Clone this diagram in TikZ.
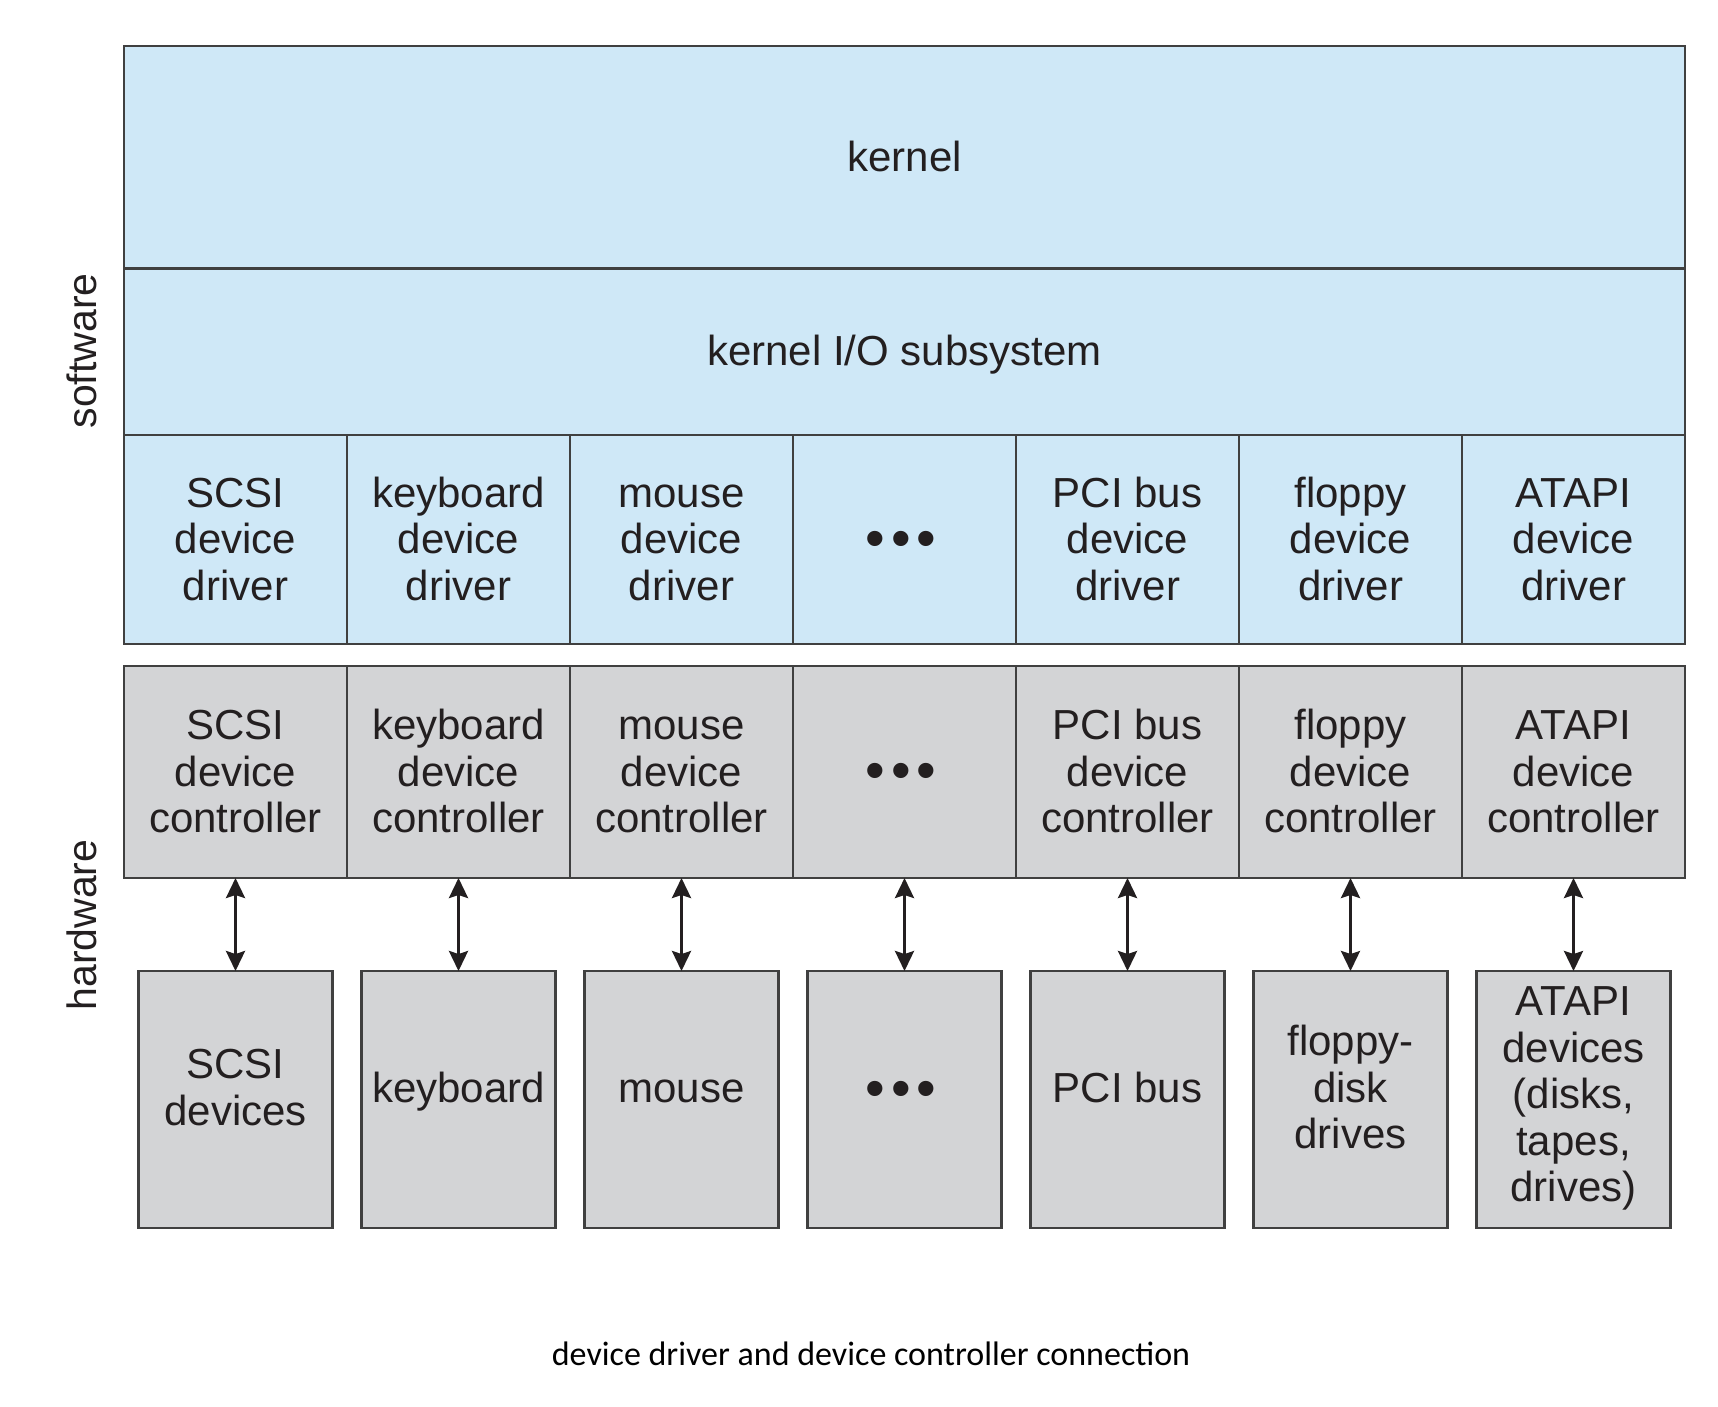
\documentclass[tikz,border=0pt]{standalone}
\usepackage{fontspec}
\setmainfont{Liberation Sans}
\newfontfamily\capfont{Carlito}
\usetikzlibrary{arrows.meta}

\definecolor{swblue}{RGB}{207,232,247}
\definecolor{hwgray}{RGB}{211,212,214}
\definecolor{edge}{RGB}{64,64,64}
\definecolor{ink}{RGB}{35,31,32}

\tikzset{
    layer/.style={draw=edge, line width=2.5pt, inner sep=0pt, outer sep=0pt,
        text=ink, align=center, font=\fontsize{42}{46.5}\selectfont},
    swbox/.style={layer, fill=swblue},
    hwbox/.style={layer, fill=hwgray},
    link/.style={{Stealth[length=20pt,width=19pt,inset=3pt]}-{Stealth[length=20pt,width=19pt,inset=3pt]},
        line width=3pt, draw=ink},
}

% struts so every column sits on the same baselines
\newcommand{\tstrut}{\rule{0pt}{37pt}}
\newcommand{\bstrut}{\rule[-9pt]{0pt}{9pt}}
\newcommand{\devtop}{\rule{0pt}{30pt}}
\newcommand{\devbot}{\rule[-25pt]{0pt}{25pt}}
\newcommand{\bigdots}[1][-3.5pt]{{\fontsize{56}{56}\selectfont\raisebox{#1}{•\hspace{6pt}•\hspace{6pt}•\hspace{7pt}}}}

\begin{document}
\begin{tikzpicture}[x=1pt, y=-1pt]
    \useasboundingbox (0,0) rectangle (1718,1406);

    % Define coordinates
    \def\colx{124}  % left edge of the stack
    \def\colw{223}  % width of one column

    % Software layers
    \node[swbox, minimum width=7*\colw, minimum height=222.7] (kernel) at (904.5, 157.35) {\tstrut kernel\bstrut};
    \node[swbox, minimum width=7*\colw, minimum height=166.3] (kio) at (904.5, 351.85) {\tstrut kernel I/O subsystem\bstrut};

    % Drivers, controllers and devices, one column each
    \foreach \drvtext/\ctltext/\devtext [count=\i] in {
        {SCSI\\device\\driver}/{SCSI\\device\\controller}/{SCSI\\devices},
        {keyboard\\device\\driver}/{keyboard\\device\\controller}/{keyboard},
        {mouse\\device\\driver}/{mouse\\device\\controller}/{mouse},
        {\bigdots}/{\bigdots}/{\bigdots[-5pt]},
        {PCI bus\\device\\driver}/{PCI bus\\device\\controller}/{PCI bus},
        {floppy\\device\\driver}/{floppy\\device\\controller}/{floppy-\\disk\\drives},
        {ATAPI\\device\\driver}/{ATAPI\\device\\controller}/{\rule{0pt}{43pt}ATAPI\\devices\\(disks,\\tapes,\\drives)}} {
        \node[swbox, minimum width=\colw, minimum height=209] (drv\i) at (\colx+\i*\colw-0.5*\colw, 539.5) {\tstrut\drvtext\bstrut};
        \node[hwbox, minimum width=\colw, minimum height=212] (ctl\i) at (\colx+\i*\colw-0.5*\colw, 772) {\tstrut\ctltext\bstrut};
        \node[hwbox, minimum width=194, minimum height=257] (dev\i) at (\colx+\i*\colw-0.5*\colw, 1099.5) {\devtop\devtext\devbot};
        \draw[link] (ctl\i.south) -- (dev\i.north);
    }

    % Side labels
    \node[rotate=90, text=ink, font=\fontsize{41}{46}\selectfont] (swlabel) at (82, 351) {software};
    \node[rotate=90, text=ink, font=\fontsize{41}{46}\selectfont] (hwlabel) at (82, 925) {hardware};

    % Caption
    \node[font=\capfont\fontsize{34}{34}\selectfont] (caption) at (871, 1354) {device driver and device controller connection};
\end{tikzpicture}
\end{document}
